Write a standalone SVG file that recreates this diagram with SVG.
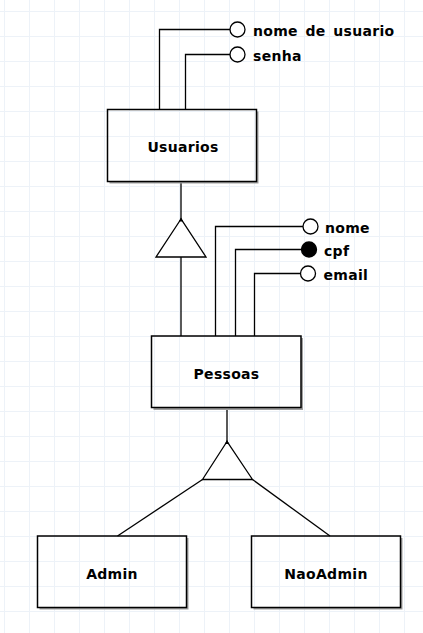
<svg xmlns="http://www.w3.org/2000/svg" width="423" height="633" viewBox="0 0 423 633">
<defs>
<pattern id="grid" x="4" y="11" width="25" height="25" patternUnits="userSpaceOnUse">
<path d="M0.5 0 V25 M0 0.5 H25" fill="none" stroke="#edf2f8" stroke-width="1"/>
</pattern>
<style>
.box{fill:none;stroke:#000;stroke-width:1.5}
.shadow{fill:none;stroke:#a0a0a0;stroke-width:2}
.line{fill:none;stroke:#000;stroke-width:1.3}
.attr{fill:#fff;stroke:#000;stroke-width:1.3}
.key{fill:#000;stroke:#000;stroke-width:1.3}
.tri{fill:#fff;stroke:#000;stroke-width:1.3}
.lbl{font-family:"DejaVu Sans",Verdana,sans-serif;font-weight:bold;font-size:14px;letter-spacing:0.3px;fill:#000}
.ent{text-anchor:middle}
.att{word-spacing:2.5px}
</style>
</defs>
<rect width="423" height="633" fill="#fff"/>
<rect width="423" height="633" fill="url(#grid)"/>

<g id="connectors">
<path class="line" d="M159.5 109.5 V29.5 H230"/>
<path class="line" d="M185.5 109.5 V54.5 H230"/>
<path class="line" d="M181 182 V219"/>
<path class="line" d="M181 257 V336"/>
<path class="line" d="M215.5 336 V226.5 H303"/>
<path class="line" d="M235.5 336 V249.5 H301.5"/>
<path class="line" d="M254.5 336 V273.5 H300.5"/>
<path class="line" d="M227 407.5 V441.5"/>
<path class="line" d="M202.5 479.5 L117.5 536"/>
<path class="line" d="M252.5 479.5 L330 536"/>
</g>

<g id="isa1">
<polygon class="tri" points="181,219 156,257 206,257"/>
<polygon fill="#000" points="181,217.5 178.8,221.5 183.2,221.5"/>
</g>
<g id="isa2">
<polygon class="tri" points="227,441.5 202.5,479.5 252.5,479.5"/>
<polygon fill="#000" points="227,440 224.8,444 229.2,444"/>
</g>

<g id="usuarios">
<path class="shadow" d="M257.5 111.5 V182.5 H109.5"/>
<rect class="box" x="107.5" y="109.5" width="149" height="72"/>
<text class="lbl ent" x="183" y="152">Usuarios</text>
</g>
<g id="attr-nome-usuario">
<circle class="attr" cx="237.5" cy="29.5" r="7.5"/>
<text class="lbl att" x="253" y="36">nome de usuario</text>
</g>
<g id="attr-senha">
<circle class="attr" cx="237.5" cy="54.5" r="7.5"/>
<text class="lbl att" x="253" y="61">senha</text>
</g>

<g id="pessoas">
<path class="shadow" d="M302 338 V409 H153.5"/>
<rect class="box" x="151.5" y="336" width="149.5" height="71.5"/>
<text class="lbl ent" x="226.5" y="378.5">Pessoas</text>
</g>
<g id="attr-nome">
<circle class="attr" cx="310.5" cy="226.5" r="7.5"/>
<text class="lbl att" x="325" y="232.5">nome</text>
</g>
<g id="attr-cpf">
<circle class="key" cx="309" cy="249.5" r="7.5"/>
<text class="lbl att" x="324" y="255.5">cpf</text>
</g>
<g id="attr-email">
<circle class="attr" cx="308" cy="273.5" r="7.5"/>
<text class="lbl att" x="323.5" y="279.5">email</text>
</g>

<g id="admin">
<path class="shadow" d="M187.5 538 V608.5 H39.5"/>
<rect class="box" x="37.5" y="536" width="149" height="71.5"/>
<text class="lbl ent" x="112" y="579">Admin</text>
</g>
<g id="naoadmin">
<path class="shadow" d="M401.5 538 V608.5 H253.5"/>
<rect class="box" x="251.5" y="536" width="149" height="71.5"/>
<text class="lbl ent" x="326" y="579">NaoAdmin</text>
</g>
</svg>
